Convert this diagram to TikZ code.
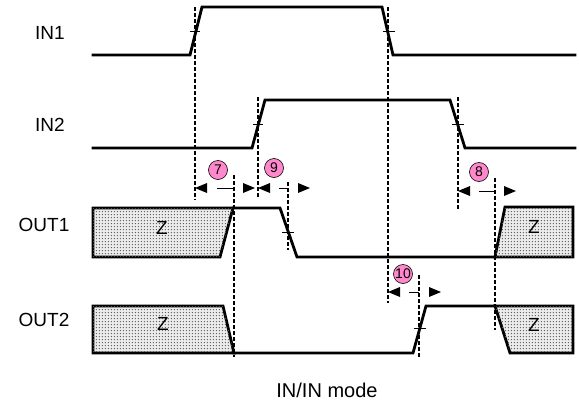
\documentclass[tikz,border=0pt]{standalone}
\usepackage{fontspec}
\setmainfont{Liberation Sans}
\usetikzlibrary{patterns}
\definecolor{numpink}{RGB}{255,136,204}
\pgfdeclarepatternformonly{bigdots}{\pgfpointorigin}{\pgfpoint{3.3pt}{3.3pt}}{\pgfpoint{3.3pt}{3.3pt}}{%
  \pgfpathcircle{\pgfpoint{1.65pt}{1.65pt}}{0.85pt}\pgfusepath{fill}}
\tikzset{
  sig/.style={line width=2.8pt, line join=miter, line cap=rect},
  guide/.style={line width=1.1pt, dash pattern=on 3.5pt off 2.5pt},
  tickmark/.style={line width=0.8pt},
  zbox/.style={line width=2.8pt, line join=miter, fill=gray!15,
    postaction={pattern=bigdots, pattern color=black!65}},
  lbl/.style={font=\fontsize{19}{22}\selectfont, inner sep=0pt},
  ztext/.style={font=\fontsize{19}{22}\selectfont, inner sep=0pt},
  num/.style={circle, draw, line width=0.6pt, fill=numpink, inner sep=0pt,
    minimum size=19pt, font=\fontsize{14}{16}\selectfont},
  tri/.style={fill=black},
  measline/.style={line width=1pt}
}
\newcommand{\measarrow}[5]{% y, lefttip, line start, line end, right base
  \fill[tri] (#2,#1) -- ++(12,-5) -- ++(0,10) -- cycle;
  \draw[measline] (#3,#1) -- (#4,#1);
  \fill[tri] (#5,#1-5) -- ++(12,5) -- ++(-12,5) -- cycle;
}
\begin{document}
\begin{tikzpicture}[x=1pt,y=-1pt]
\useasboundingbox (0,0) rectangle (579,402);

% labels
\node[lbl] (in1) at (50,33) {IN1};
\node[lbl] (in2) at (50,125) {IN2};
\node[lbl] (out1) at (44,225) {OUT1};
\node[lbl] (out2) at (44,320) {OUT2};
\node[lbl, font=\fontsize{20}{23}\selectfont, anchor=base] (cap) at (327,397) {IN/IN mode};

% Z boxes
\draw[zbox] (93,208) -- (233,208) -- (220,257) -- (93,257) -- cycle;
\draw[zbox] (495,257) -- (505,207) -- (573,207) -- (573,257) -- cycle;
\draw[zbox] (93,306) -- (223,306) -- (234,353) -- (93,353) -- cycle;
\draw[zbox] (495,306) -- (573,306) -- (573,353) -- (510,353) -- cycle;
\node[ztext] (z1) at (162,228) {Z};
\node[ztext] (z2) at (534,227) {Z};
\node[ztext] (z3) at (163,324) {Z};
\node[ztext] (z4) at (534,325) {Z};

% signals
\draw[sig] (93,55) -- (190,55) -- (202,7) -- (382,7) -- (393,55) -- (575,55);
\draw[sig] (93,148) -- (252,148) -- (265,100) -- (450,100) -- (465,148) -- (575,148);
\draw[sig] (233,208) -- (280,208) -- (297,257) -- (495,257);
\draw[sig] (234,353) -- (413,353) -- (426,306) -- (495,306);

% guide lines
\draw[guide] (195,7) -- (195,200);
\draw[guide] (388,7) -- (388,303);
\draw[guide] (258,97) -- (258,198);
\draw[guide] (458,97) -- (458,210);
\draw[guide] (234,175) -- (234,357);
\draw[guide] (288,182) -- (288,250);
\draw[guide] (495,178) -- (495,330);
\draw[guide] (419,275) -- (419,357);

% ticks
\draw[tickmark] (190,31) -- (200,31);
\draw[tickmark] (383,31) -- (395,31);
\draw[tickmark] (253,124) -- (263,124);
\draw[tickmark] (452,124) -- (464,124);
\draw[tickmark] (282,232) -- (294,232);
\draw[tickmark] (414,328) -- (426,328);

% measurement arrows
\measarrow{188}{195}{217}{234}{243}
\measarrow{188}{258}{279}{288}{298}
\measarrow{191}{458}{479}{495}{504}
\measarrow{292}{388}{409}{419}{429}

% numbers
\node[num] (n7) at (218,170) {7};
\node[num] (n9) at (274,168) {9};
\node[num] (n8) at (479,172) {8};
\node[num] (n10) at (403,274) {10};
\end{tikzpicture}
\end{document}
